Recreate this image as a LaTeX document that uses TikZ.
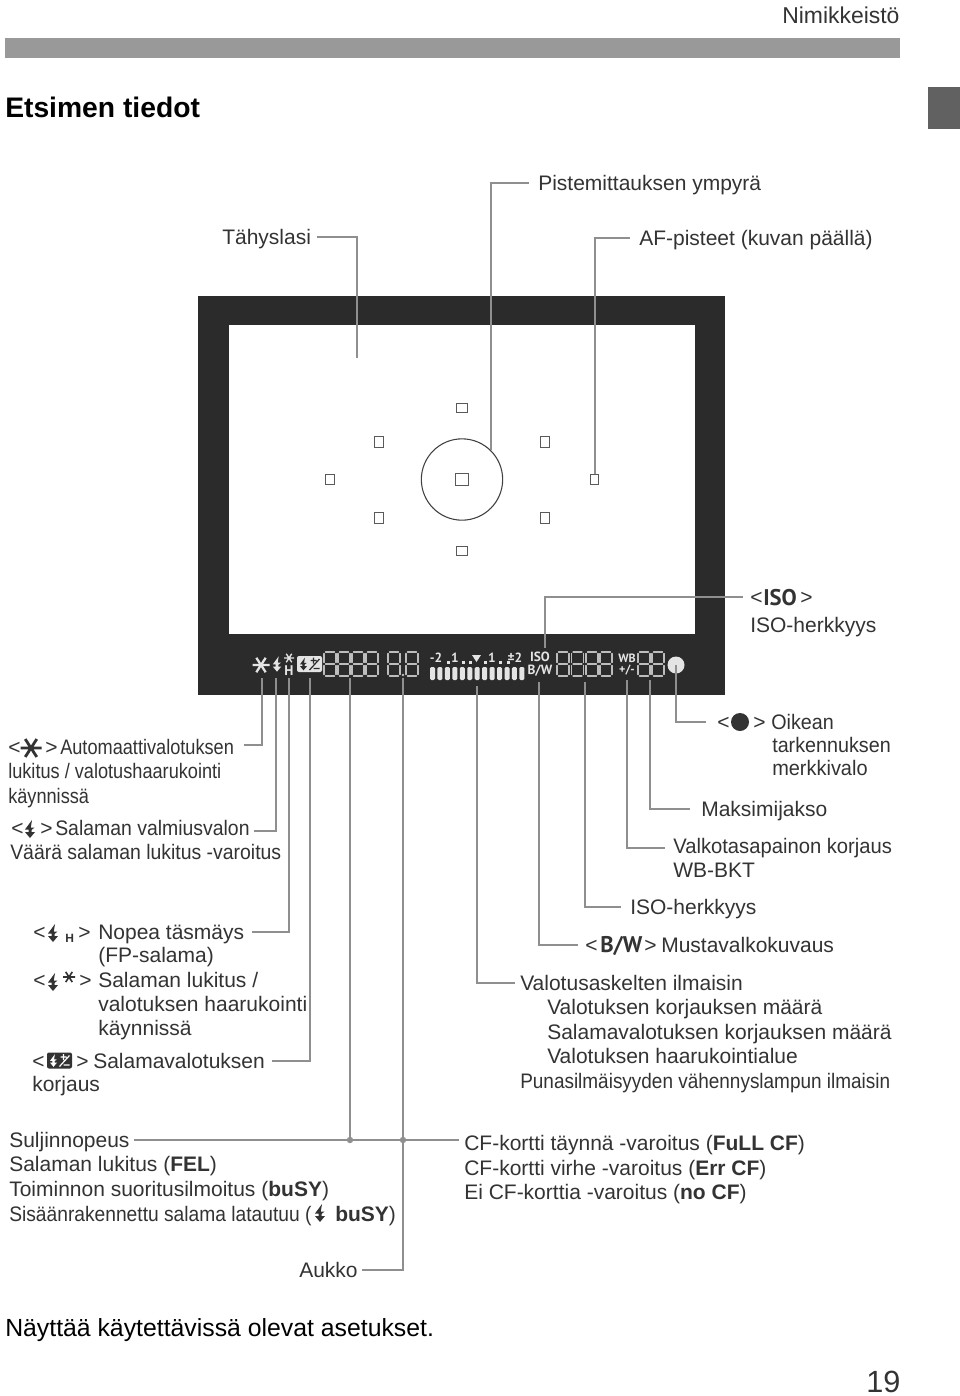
\documentclass[tikz,border=0pt]{standalone}
\usepackage{fontspec}
\usepackage{graphicx}
\setmainfont{Liberation Sans}
\newfontfamily\iconf{PT Sans}
\definecolor{ink}{HTML}{333333}
\definecolor{panel}{HTML}{2B2B2B}
\definecolor{leadc}{HTML}{8F8F8F}
\definecolor{led}{HTML}{E4E4E4}
\definecolor{seg}{HTML}{BDBDBD}
\newcommand\T[5][1]{\node[lab] (#2) at (#3,#4) {\scalebox{#1}[1]{#5}};}
\newcommand\Bolt[4][1]{\fill[#4,shift={(#2,#3)},scale=#1] (2,-9)--(-5,0.5)--(-1.5,0.5)--(-1.5,3)--(-5,3)--(0,9)--(5,3)--(1.5,3)--(1.5,1)--(4.5,-1.5)--(0.8,-1.5)--cycle;}
\newcommand\Ast[4]{\draw[#4,line width=#3*0.2,shift={(#1,#2)}] (-#3,0)--(#3,0) (-#3*0.55,-#3*0.85)--(#3*0.55,#3*0.85) (-#3*0.55,#3*0.85)--(#3*0.55,-#3*0.85);}
\newcommand\Comp[4]{\fill[#3,rounded corners=1.5,shift={(#1,#2)}] (-12.5,-8) rectangle (12.5,8);
  \Bolt[0.7]{#1-6}{#2}{#4}
  \draw[#4,line width=0.9pt,shift={(#1,#2)}] (1,-3.5)--(7,-3.5) (4,-6.5)--(4,-0.5) (0,6)--(10,-5) (4,4.5)--(10,4.5);}
\newcommand\Digit[2]{\draw[seg,line width=0.9pt,shift={(#1,#2)},line cap=round]
  (1.5,0)--(10.5,0) (1.5,12)--(10.5,12) (1.5,24)--(10.5,24)
  (0,1.5)--(0,10.5) (12,1.5)--(12,10.5) (0,13.5)--(0,22.5) (12,13.5)--(12,22.5);}
\tikzset{
  lab/.style={anchor=base west,inner sep=0pt,text height=10.5pt,text depth=0pt,text=ink,
    font=\fontsize{15.75pt}{18pt}\selectfont},
  lead/.style={draw=leadc,line width=1.9pt,shorten >=#1},
  lead/.default=5,
  afbox/.style={draw=black!65,line width=0.9pt,fill=white,minimum width=#1,inner sep=0pt},
  afwide/.style={afbox=8pt,minimum height=6.2pt},
  aftall/.style={afbox=6.4pt,minimum height=8pt},
  dotc/.style={circle,fill=leadc,inner sep=0pt,minimum size=4.8pt},
  ledtext/.style={text=led,inner sep=0pt,font=\iconf\bfseries\fontsize{10pt}{10pt}\selectfont}
}
\begin{document}
\begin{tikzpicture}[x=0.75pt,y=-0.75pt]
\useasboundingbox (0,0) rectangle (960,1396);
\fill[white] (0,0) rectangle (960,1396);
% header
\fill[black!40] (5,38) rectangle (900,58);
\fill[black!62] (928,87) rectangle (960,129);
\node[lab,font=\fontsize{17.2pt}{20pt}\selectfont] (hdr) at (782,23) {Nimikkeistö};
\node[lab,font=\fontsize{21.2pt}{24pt}\bfseries\selectfont,text=black] (title) at (5,117) {Etsimen tiedot};
% viewfinder
\fill[panel] (198,296) rectangle (725,695);
\fill[white] (229,325) rectangle (695,634);
\node[circle,draw=black!75,line width=0.8pt,minimum size=61pt,inner sep=0pt] (ring) at (462,479.5) {};
\node[afwide] (af1) at (462,408) {};
\node[aftall] (af2) at (379,442) {};
\node[aftall] (af3) at (545,442) {};
\node[aftall] (af4) at (330,479.5) {};
\node[afbox=9.5pt,minimum height=9.5pt] (af5) at (462,479.5) {};
\node[aftall] (af6) at (594.5,479.5) {};
\node[aftall] (af7) at (379,518) {};
\node[aftall] (af8) at (545,518) {};
\node[afwide] (af9) at (462,551) {};
% display
\Ast{261}{665}{8.5}{led}
\Bolt[0.85]{277}{664}{led}
\Ast{289}{658}{5}{led}
\node[ledtext,font=\iconf\bfseries\fontsize{10.5pt}{10pt}\selectfont] (dH) at (289,671) {H};
\Comp{309.5}{664}{led}{panel}
\foreach \x in {324,338,352,366,388,406}{\Digit{\x}{652}}
\fill[seg] (403,675) circle (1.4);
\foreach \x in {557,571.5,586,600,638,652}{\Digit{\x}{652}}
\foreach \i in {0,...,12}{\fill[led,rounded corners=1] ({430+\i*7.45},667) rectangle ({435+\i*7.45},680);}
\node[ledtext] (dm2) at (436,658) {-2};
\node[ledtext] (dp1) at (455,658) {1};
\node[ledtext] (dp2) at (492,658) {1};
\node[ledtext] (dpm) at (515,658) {±2};
\fill[led] (472,655)--(481,655)--(476.5,662)--cycle;
\foreach \x in {447,462,469,484,499,507}{\fill[led] (\x,661) rectangle (\x+2.5,664);}
\node[ledtext] (dISO) at (540,657) {ISO};
\node[ledtext] (dBW) at (540,671) {B/W};
\node[ledtext,font=\iconf\bfseries\fontsize{9pt}{9pt}\selectfont] (dWB) at (627,658) {WB};
\node[ledtext,font=\iconf\bfseries\fontsize{9pt}{9pt}\selectfont] (dPM) at (627,670) {+/-};
\fill[led] (676,665) circle (8.5);
% free ends of the connectors
\foreach \n/\x/\y in {eTah/357/358,ePis/491/450,eAF/595/474,eISOt/545/648,
  eAst/262/678,eBol/276/678,eH/289/678,eComp/310/678,eShut/350/678,eApe/403/678,
  eMet/477/686,eBW/539/682,eISOv/585/682,eWB/627/680,eMax/650/680,eFoc/676/665}
  {\coordinate (\n) at (\x,\y);}
% top labels
\T{tah}{222}{244}{Tähyslasi}
\T{pis}{538}{190}{Pistemittauksen ympyrä}
\T{afp}{639}{245}{AF-pisteet (kuvan päällä)}
% right labels
\T{isoA}{750}{604}{<}
\node[lab,font=\iconf\bfseries\fontsize{17pt}{18pt}\selectfont] (isoI) at (763,605) {ISO};
\T{isoB}{800}{604}{>}
\T{iso}{750}{632}{ISO-herkkyys}
\T{focA}{717}{729}{<}
\fill[ink] (740,722) circle (9);
\T{focB}{753}{729}{>}
\T[0.94]{foc}{771}{729}{Oikean}
\T[0.94]{foc2}{772}{752}{tarkennuksen}
\T[0.95]{foc3}{772}{775}{merkkivalo}
\T{max}{701}{816}{Maksimijakso}
\T[0.963]{wb}{673}{853}{Valkotasapainon korjaus}
\T{wb2}{673}{877}{WB-BKT}
\T{isov}{630}{914}{ISO-herkkyys}
\T{bwA}{585}{952}{<}
\node[lab,font=\iconf\bfseries\fontsize{17pt}{18pt}\selectfont] (bwI) at (600,952) {B/W};
\T{bwB}{644}{952}{>}
\T{bw}{661}{952}{Mustavalkokuvaus}
\T{met}{520}{990}{Valotusaskelten ilmaisin}
\T{met2}{547}{1014}{Valotuksen korjauksen määrä}
\T{met3}{547}{1039}{Salamavalotuksen korjauksen määrä}
\T{met4}{547}{1063}{Valotuksen haarukointialue}
\T[0.903]{met5}{520}{1088}{Punasilmäisyyden vähennyslampun ilmaisin}
\T{cf1}{464}{1150}{CF-kortti täynnä -varoitus (\textbf{FuLL CF})}
\T{cf2}{464}{1175}{CF-kortti virhe -varoitus (\textbf{Err CF})}
\T{cf3}{464}{1199}{Ei CF-korttia -varoitus (\textbf{no CF})}
% left labels
\T{astA}{8}{754}{<}
\Ast{31}{748}{10.5}{ink}
\T{astB}{45}{754}{>}
\T[0.865]{ast}{60}{754}{Automaattivalotuksen}
\T[0.865]{ast2}{8}{778}{lukitus / valotushaarukointi}
\T[0.865]{ast3}{8}{803}{käynnissä}
\T{bolA}{11}{835}{<}
\Bolt{30}{829}{ink}
\T{bolB}{40}{835}{>}
\T[0.925]{bol}{55}{835}{Salaman valmiusvalon}
\T[0.925]{bol2}{10}{859}{Väärä salaman lukitus -varoitus}
\T{hA}{33}{939}{<}
\Bolt{53}{933}{ink}
\node[lab,font=\bfseries\fontsize{9pt}{9pt}\selectfont] (hH) at (65,942) {H};
\T{hB}{78}{939}{>}
\T{hs}{98}{939}{Nopea täsmäys}
\T{hs2}{98}{962}{(FP-salama)}
\T{fA}{33}{987}{<}
\Bolt{53}{982}{ink}
\Ast{69}{977}{6}{ink}
\T{fB}{79}{987}{>}
\T{fl}{98}{987}{Salaman lukitus /}
\T{fl2}{98}{1011}{valotuksen haarukointi}
\T{fl3}{98}{1035}{käynnissä}
\T{cA}{32}{1068}{<}
\Comp{59.5}{1060.5}{ink}{white}
\T{cB}{76}{1068}{>}
\T{cmp}{93}{1068}{Salamavalotuksen}
\T{cmp2}{32}{1091}{korjaus}
% bottom labels
\T{sh}{9}{1147}{Suljinnopeus}
\T{sh2}{9}{1171}{Salaman lukitus (\textbf{FEL})}
\T{sh3}{9}{1196}{Toiminnon suoritusilmoitus (\textbf{buSY})}
\T[0.915]{sh4}{9}{1221}{Sisäänrakennettu salama latautuu (}
\Bolt{320}{1213}{ink}
\T{sh5}{335}{1221}{\textbf{buSY})}
\T{ape}{299}{1277}{Aukko}
\node[lab,font=\fontsize{18.6pt}{22pt}\selectfont,text=black] (foot) at (5,1336) {Näyttää käytettävissä olevat asetukset.};
\node[lab,font=\fontsize{23pt}{26pt}\selectfont] (pg) at (866,1392) {19};
% connectors
\draw[lead=4] (eTah) |- (tah.east);
\draw[lead=7] (ePis) |- (pis.west);
\draw[lead=7] (eAF) |- (afp.west);
\draw[lead=5] (eISOt) |- (isoA.west);
\draw[lead=7] (eAst) |- ([yshift=1.5pt]ast.east);
\draw[lead=3] (eBol) |- ([yshift=-2.2pt]bol.east);
\draw[lead=6] (eH) |- (hs.east);
\draw[lead=5] (eComp) |- (cmp.east);
\draw[lead=8] (eFoc) |- (focA.west);
\draw[lead=8] (eMax) |- (max.west);
\draw[lead=6] (eWB) |- ([yshift=-1.5pt]wb.west);
\draw[lead=7] (eISOv) |- (isov.west);
\draw[lead=5] (eBW) |- (bwA.west);
\draw[lead=4] (eMet) |- (met.west);
\draw[lead=3] (eApe) |- (ape.east);
\node[dotc] (j1) at (350,1140) {};
\node[dotc] (j2) at (403,1140) {};
\draw[lead=0] (eShut) -- (j1);
\draw[lead=4] (sh.east) ++(4,0) -- (cf1.west |- sh.east);
\end{tikzpicture}
\end{document}
